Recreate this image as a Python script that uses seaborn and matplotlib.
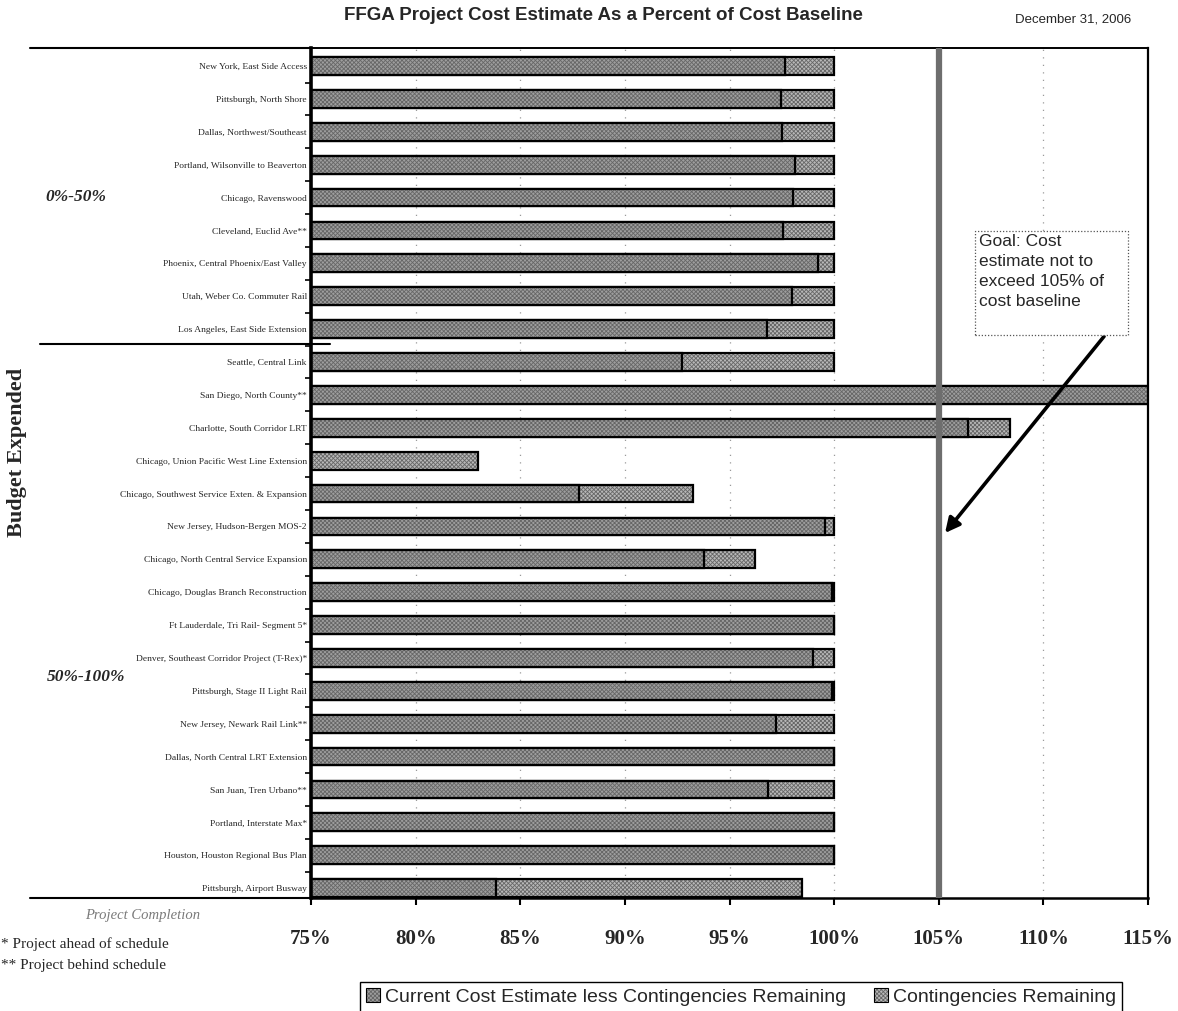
import matplotlib
matplotlib.use("Agg")
import matplotlib.pyplot as plt
import matplotlib.colors as mcolors
from matplotlib.lines import Line2D
from matplotlib.patches import Patch, Rectangle
import pandas as pd
import seaborn as sns

# ---------------------------------------------------------------- data
projects = [
    "New York, East Side Access",
    "Pittsburgh, North Shore",
    "Dallas, Northwest/Southeast",
    "Portland, Wilsonville to Beaverton",
    "Chicago, Ravenswood",
    "Cleveland, Euclid Ave**",
    "Phoenix, Central Phoenix/East Valley",
    "Utah, Weber Co. Commuter Rail",
    "Los Angeles, East Side Extension",
    "Seattle, Central Link",
    "San Diego, North County**",
    "Charlotte, South Corridor LRT",
    "Chicago, Union Pacific West Line Extension",
    "Chicago, Southwest Service Exten. & Expansion",
    "New Jersey, Hudson-Bergen MOS-2",
    "Chicago, North Central Service Expansion",
    "Chicago, Douglas Branch Reconstruction",
    "Ft Lauderdale, Tri Rail- Segment 5*",
    "Denver, Southeast Corridor Project (T-Rex)*",
    "Pittsburgh, Stage II Light Rail",
    "New Jersey, Newark Rail Link**",
    "Dallas, North Central LRT Extension",
    "San Juan, Tren Urbano**",
    "Portland, Interstate Max*",
    "Houston, Houston Regional Bus Plan",
    "Pittsburgh, Airport Busway",
]

# percent of cost baseline
current_less_contingency = [
    97.66, 97.44, 97.52, 98.11, 98.03, 97.57, 99.23, 98.00, 96.80,
    92.74, 116.00, 106.40, 74.50, 87.80, 99.57, 93.80, 99.90, 100.00,
    98.97, 99.90, 97.23, 100.00, 96.84, 100.00, 100.00, 83.86,
]
contingency_remaining = [
    2.34, 2.56, 2.48, 1.89, 1.97, 2.43, 0.77, 2.00, 3.20,
    7.26, 0.00, 2.00, 8.50, 5.47, 0.43, 2.40, 0.10, 0.00,
    1.03, 0.10, 2.77, 0.00, 3.16, 0.00, 0.00, 14.60,
]

x_ticks = [75, 80, 85, 90, 95, 100, 105, 110, 115]
grid_at = [80, 85, 90, 95, 100, 110]
goal_pct = 105

series_names = ["Current Cost Estimate less Contingencies Remaining",
                "Contingencies Remaining"]

# ---------------------------------------------------------------- style
W, H = 1178, 1011
fx = lambda px: px / W
fy = lambda py: 1 - py / H

sns.set_theme(style="white")
plt.rcParams["font.family"] = ["Liberation Serif", "DejaVu Serif"]
plt.rcParams["hatch.linewidth"] = 0.6

CUR_COLOR = "#9e9e9e"
CONT_COLOR = "#b8b8b8"
HATCH = "xxxxxxxx"
HATCH_COLOR = "#666666"
SANS = ["Liberation Sans Narrow", "Liberation Sans", "DejaVu Sans"]

df = pd.DataFrame({
    "project": projects,
    "current": current_less_contingency,
    "contingency": contingency_remaining,
})
df["total"] = df["current"] + df["contingency"]

fig = plt.figure(figsize=(W / 100, H / 100), dpi=100)
ax = fig.add_axes([fx(311), fy(898), fx(1148) - fx(311), fy(48) - fy(898)])

bar_kw = dict(orient="h", order=projects, errorbar=None, saturation=1,
              width=0.54, edgecolor="black", linewidth=1.6, ax=ax, zorder=2)
# full bar (current + contingency), then the current part drawn over it
sns.barplot(data=df, x="total", y="project", color=CONT_COLOR, **bar_kw)
sns.barplot(data=df, x="current", y="project", color=CUR_COLOR, **bar_kw)


def add_hatch(patch):
    patch.set_hatch(HATCH)
    rgba = mcolors.to_rgba(HATCH_COLOR)
    if hasattr(patch, "set_hatchcolor"):
        patch.set_hatchcolor(rgba)
    else:
        patch._hatch_color = rgba


for p in ax.patches:
    add_hatch(p)

# ---------------------------------------------------------------- axes
ax.set_xlim(75, 115)
ax.set_ylim(25.3, -0.55)
ax.set_xlabel("")
ax.set_ylabel("")

ax.set_xticks(x_ticks)
ax.set_xticklabels([f"{v}%" for v in x_ticks], fontsize=15, fontweight="bold")
ax.tick_params(axis="x", direction="out", length=5, width=1.5, pad=17,
               color="black", bottom=True)
ax.tick_params(axis="y", which="major", length=0, pad=3, labelsize=6.8)
ax.set_yticks([i + 0.5 for i in range(len(projects) - 1)], minor=True)
ax.tick_params(axis="y", which="minor", direction="out", length=4,
               width=1.2, color="black", left=True)

for v in grid_at:
    ax.axvline(v, color="#9a9a9a", lw=0.9, ls=(0, (1, 5)), zorder=0.5)

ax.axvline(goal_pct, color="#6e6e6e", lw=4.5, zorder=5)

for side, lw in [("left", 2.6), ("bottom", 1.8), ("top", 1.4), ("right", 1.6)]:
    ax.spines[side].set_visible(True)
    ax.spines[side].set_color("black")
    ax.spines[side].set_linewidth(lw)

# goal call-out: dotted box with text, arrow pointing at the goal line
fig.add_artist(Rectangle((fx(975), fy(335)), fx(1128) - fx(975),
                         fy(231) - fy(335), transform=fig.transFigure,
                         facecolor="white", edgecolor="#555555",
                         linestyle=(0, (1, 1.5)), linewidth=0.9, zorder=7))
fig.text(fx(979), fy(234), "Goal: Cost\nestimate not to\nexceed 105% of\ncost baseline",
         family=["Liberation Sans", "DejaVu Sans"], fontsize=12.5, ha="left",
         va="top", linespacing=1.42, zorder=8)
ax.annotate("", xy=(105.3, 14.2), xytext=(112.9, 8.22),
            arrowprops=dict(arrowstyle="-|>", color="black", lw=2.6,
                            mutation_scale=22, shrinkA=0, shrinkB=0),
            zorder=8)

# ---------------------------------------------------------------- frame lines
for y0, x0, x1 in [(48, 30, 311), (898, 30, 311), (344, 40, 330)]:
    fig.add_artist(Line2D([fx(x0), fx(x1)], [fy(y0), fy(y0)],
                          color="black", lw=1.5))

# ---------------------------------------------------------------- texts
fig.text(fx(603), fy(16), "FFGA Project Cost Estimate As a Percent of Cost Baseline",
         family=SANS, fontsize=13.5, fontweight="bold", ha="center", va="center")
fig.text(fx(1073), fy(19), "December 31, 2006", family=SANS, fontsize=9.5,
         ha="center", va="center")

fig.text(fx(17), fy(452), "Budget Expended", rotation=90, fontsize=16,
         fontweight="bold", ha="center", va="center")
fig.text(fx(76), fy(197), "0%-50%", fontsize=12.5, fontweight="bold",
         style="italic", ha="center", va="center")
fig.text(fx(86), fy(677), "50%-100%", fontsize=12.5, fontweight="bold",
         style="italic", ha="center", va="center")
fig.text(fx(143), fy(915), "Project Completion", fontsize=10.5, style="italic",
         color="#7a7a7a", ha="center", va="center")
fig.text(fx(1), fy(944), "* Project ahead of schedule", fontsize=11,
         ha="left", va="center")
fig.text(fx(1), fy(966), "** Project behind schedule", fontsize=11,
         ha="left", va="center")

# ---------------------------------------------------------------- legend
handles = []
for name, col in zip(series_names, [CUR_COLOR, CONT_COLOR]):
    h = Patch(facecolor=col, edgecolor="black", linewidth=0.8, label=name)
    add_hatch(h)
    handles.append(h)
fig.legend(handles=handles, loc="upper left",
           bbox_to_anchor=(fx(360), fy(982)), ncol=2, frameon=True,
           fancybox=False, edgecolor="black", framealpha=1,
           prop={"family": ["Liberation Sans", "DejaVu Sans"], "size": 14},
           handlelength=0.75, handleheight=0.75, handletextpad=0.25,
           columnspacing=1.4, borderpad=0.3, borderaxespad=0)

fig.savefig("out.png", dpi=100)
